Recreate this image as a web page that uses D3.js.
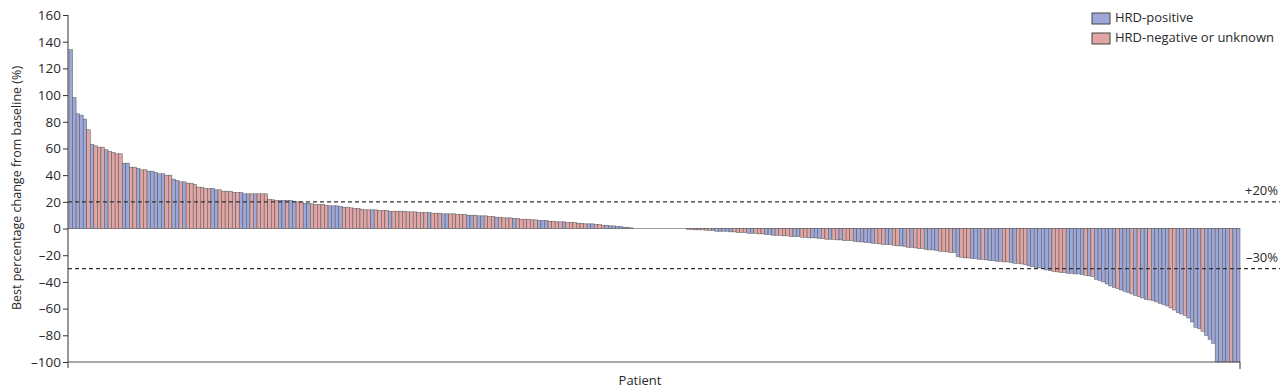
<!DOCTYPE html>
<html>
<head>
<meta charset="utf-8">
<script src="https://cdn.jsdelivr.net/npm/d3@7"></script>
<style>
  body { margin: 0; background: #fff; }
  text { font-family: "Open Sans", "Noto Sans", sans-serif; fill: #2a2a2a; }
</style>
</head>
<body>
<svg id="chart" width="1280" height="391"></svg>
<script>
// best % change per patient, sorted
var changes = [
  134, 98, 86, 85, 82, 74, 63, 62, 61, 61, 59, 58, 57, 56, 56,
  49, 49,
  46, 46, 45, 44, 44, 43, 43, 42, 41, 41, 40, 40,
  37, 36, 35, 35,
  34, 34, 33,
  31, 31, 30, 30, 30, 29,
  29, 28, 28, 28, 27, 27,
  27, 26, 26, 26, 26, 26, 26, 26,
  22, 21.5, 21, 21, 21, 21, 21, 20.5,
  20, 19.5, 19, 19, 18.5, 18, 18, 18, 17.5,
  17, 17, 17, 16.5, 16, 16,
  15.5, 15, 15, 14.5, 14, 14, 14,
  14, 13.5, 13.5, 13.5, 13, 13, 13, 13, 13,
  12.5, 12.5, 12.5, 12, 12, 12, 12, 11.5, 11.5,
  11.5, 11, 11, 11, 11, 10.5, 10.5, 10.5, 10,
  10, 10, 9.5, 9.5, 9.5, 9, 9, 8.5, 8.5,
  8, 8, 8, 7.5, 7.5, 7, 7, 7, 6.5,
  6.5, 6, 6, 6, 5.5, 5.5, 5, 5, 5,
  4.5, 4.5, 4.5, 4, 4, 3.5, 3.5, 3.5, 3,
  3, 2.5, 2.5, 2, 2, 1.5, 1.5, 1, 1, 0.5,
  0, 0, 0, 0, 0, 0, 0, 0, 0, 0, 0, 0, 0, 0, 0,
  -0.5, -0.8, -1, -1, -1, -1.2, -1.5,
  -1.5, -2, -2, -2, -2, -2.5, -2.5,
  -3, -3, -3, -3.5, -3.5, -3.5, -4, -4, -4.5,
  -4.5, -5, -5, -5, -5.5, -5.5, -6, -6, -6,
  -6.5, -6.5, -7, -7, -7, -7.5, -7.5, -8, -8,
  -8, -8.5, -8.5, -9, -9, -9, -9.5, -10, -10, -10.5,
  -10.5, -11, -11, -11.5, -12, -12, -12, -12.5, -13,
  -13, -13.5, -14, -14, -14.5, -15, -15, -15.5,
  -16, -16, -16.5, -17, -17, -17.5, -18, -18,
  -21, -21.5, -22, -22, -22.5, -22.5, -23, -23,
  -23.5, -24, -24, -24.5, -24.5, -25, -25, -25.5, -26, -26, -26.5, -27,
  -28, -28.5, -29, -29.5, -30,
  -31, -31.5, -32, -32.5, -33,
  -33, -33.5, -33.5, -34, -34, -34.5, -35, -35.5, -36,
  -38, -39, -40, -41.5, -43,
  -44, -45, -46, -47, -48, -49,
  -50, -51, -52, -53, -53.5, -54, -55,
  -56, -57, -58, -59.5, -61,
  -63, -64, -65, -67, -70,
  -74, -75,
  -77, -80,
  -83, -86,
  -100, -100, -100, -100, -100, -100, -100
];

// B = HRD-positive, P = HRD-negative or unknown
var groups = (
  "BBBBBPBPPP" + "BPPPPBBPPB" + "PPBBBBBPPB" + "BPBPPPPPPP" + "BBPPPPPPBB" +
  "BPBPPPPPPB" + "BPBBPPBBPP" + "PPPBBBBPPP" + "PPPPPBPPPP" + "BPPPPPPPPP" +
  "PBPPPBBPPP" + "PPBBPBBPPP" + "BPPPPBPPPP" + "PPBBBPPPPB" + "PPPPPPBBPP" +
  "PBBBBBBPBP" + "PPPPPPPPPP" + "PPPPPPPPPP" + "PBBBBBBPPP" + "PBBPPPBBBP" +
  "PPPPBBPPPB" + "BBPPBPPBPP" + "PBBBBBBPPP" + "BBPPBBPBPP" + "PBBBBPPPPB" +
  "BPPPBBBPBB" + "BBBPPBBPPP" + "BBBBBBBPPP" + "PBBBBBPBPB" + "BBBBBPBBBP" +
  "BPBBPBBBBB" + "PPBBPBBBBP" + "BBBBBBBPBB"
).split("");

var legendLabels = ["HRD-positive", "HRD-negative or unknown"];
var refLines = [20, -30];
var refLabels = ["+20%", "–30%"];
var yTicks = [160, 140, 120, 100, 80, 60, 40, 20, 0, -20, -40, -60, -80, -100];

var colors = { B: "#9da8d8", P: "#e0a5a4" };

var svg = d3.select("#chart");

var x = d3.scaleBand().domain(d3.range(changes.length)).range([69, 1240]).padding(0);
var y = d3.scaleLinear().domain([-100, 160]).range([362, 15]);

// zero line
svg.append("line")
  .attr("x1", 68).attr("x2", 1240)
  .attr("y1", y(0)).attr("y2", y(0))
  .attr("stroke", "#999").attr("stroke-width", 1);

// bars
svg.append("g").selectAll("rect")
  .data(changes.map(function (v, i) { return { i: i, v: v, g: groups[i] }; }).filter(function (d) { return d.v !== 0; }))
  .enter().append("rect")
  .attr("x", function (d) { return x(d.i); })
  .attr("width", x.bandwidth())
  .attr("y", function (d) { return y(Math.max(0, d.v)); })
  .attr("height", function (d) { return Math.abs(y(d.v) - y(0)); })
  .attr("fill", function (d) { return colors[d.g]; })
  .attr("stroke", "#555")
  .attr("stroke-width", 0.5);

// reference lines
svg.selectAll(".ref").data(refLines).enter().append("line")
  .attr("x1", 68).attr("x2", 1280)
  .attr("y1", function (d) { return y(d); }).attr("y2", function (d) { return y(d); })
  .attr("stroke", "#333").attr("stroke-width", 1.2)
  .attr("stroke-dasharray", "4,3");

svg.selectAll(".refLab").data(refLabels).enter().append("text")
  .attr("x", 1278)
  .attr("y", function (d, i) { return y(refLines[i]) - 7; })
  .attr("text-anchor", "end")
  .style("font-size", "13px")
  .text(function (d) { return d; });

// y axis
var yAxis = d3.axisLeft(y).tickValues(yTicks).tickSize(5)
  .tickFormat(function (d) { return d < 0 ? "–" + Math.abs(d) : d; });
var gy = svg.append("g").attr("transform", "translate(68,0)").call(yAxis);
gy.select(".domain").attr("stroke", "#333").attr("d", "M0,15V368");
gy.selectAll(".tick line").attr("stroke", "#333");
gy.selectAll(".tick text").style("font-size", "13.5px").style("font-family", "'Open Sans', sans-serif").attr("fill", "#2a2a2a").attr("x", -7);

// x axis line
svg.append("line").attr("x1", 68).attr("x2", 1240).attr("y1", 362).attr("y2", 362)
  .attr("stroke", "#555").attr("stroke-width", 1.2);
svg.append("line").attr("x1", 1240).attr("x2", 1240).attr("y1", 362).attr("y2", 369)
  .attr("stroke", "#333").attr("stroke-width", 1);

// axis titles
svg.append("text")
  .attr("transform", "translate(21,188) rotate(-90)")
  .attr("text-anchor", "middle")
  .style("font-size", "12.5px")
  .text("Best percentage change from baseline (%)");
svg.append("text")
  .attr("x", 640).attr("y", 385)
  .attr("text-anchor", "middle")
  .style("font-size", "13px")
  .text("Patient");

// legend
legendLabels.forEach(function (lab, i) {
  svg.append("rect").attr("x", 1092).attr("y", 13 + i * 20).attr("width", 18).attr("height", 11)
    .attr("fill", i === 0 ? colors.B : colors.P).attr("stroke", "#444").attr("stroke-width", 1);
  svg.append("text").attr("x", 1115).attr("y", 19 + i * 20).attr("dominant-baseline", "middle")
    .style("font-size", "13px").text(lab);
});
</script>
</body>
</html>
